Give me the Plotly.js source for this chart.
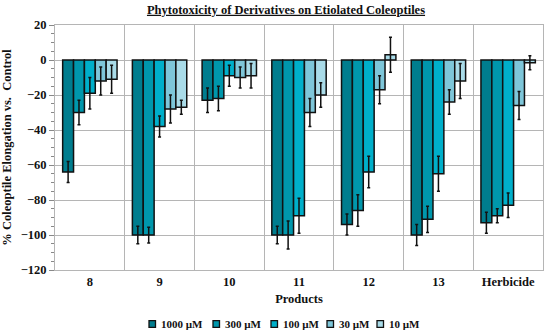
<!DOCTYPE html>
<html>
<head>
<meta charset="utf-8">
<script src="https://cdn.plot.ly/plotly-3.0.1.min.js"></script>
<style>html,body{margin:0;padding:0;background:#fff}#chart{width:550px;height:335px}</style>
</head>
<body>
<div id="chart"></div>
<script>
var categories = ["8", "9", "10", "11", "12", "13", "Herbicide"];
var seriesNames = ["1000 µM", "300 µM", "100 µM", "30 µM", "10 µM"];
var v1000 = [-64, -100, -23, -100, -94, -100, -93];
var e1000 = [6, 5, 7, 5, 6, 6, 6];
var v300 = [-30, -100, -22, -100, -86, -91, -89];
var e300 = [7, 4.5, 7, 8, 9, 7.5, 4];
var v100 = [-19, -38, -9, -89, -64, -65, -83];
var e100 = [9, 6, 6, 10, 9, 10, 7];
var v30 = [-12, -28, -10, -30, -17, -24, -26];
var e30 = [8, 8, 6, 8, 8, 7, 8];
var v10 = [-11, -27, -9, -20, 3, -12, -1.5];
var e10 = [8, 4, 7, 7, 10, 10, 4];
var colors = ["#007d8e", "#0097ac", "#00afca", "#7ec6d9", "#a9dbe8"];

var vals = [v1000, v300, v100, v30, v10];
var errs = [e1000, e300, e100, e30, e10];
var traces = vals.map(function(v, i) {
  return {
    type: "bar", x: categories, y: v, name: seriesNames[i],
    marker: {color: colors[i], line: {color: "#111", width: 1.5}},
    error_y: {type: "data", array: errs[i], visible: true, color: "#111", thickness: 1.5, width: 1.5}
  };
});

// custom compact legend (pixel positions converted to paper coords)
var W = 550, H = 335, ML = 55, MR = 7, MT = 25, MB = 65;
var PW = W - ML - MR, PH = H - MT - MB;
function px(x) { return (x - ML) / PW; }
function py(y) { return (H - MB - y) / PH; }
var legX = [149, 213, 271, 327, 377];
var legY = 324;
var shapes = [], annotations = [];
seriesNames.forEach(function(n, i) {
  shapes.push({type: "rect", xref: "paper", yref: "paper",
    x0: px(legX[i]), x1: px(legX[i] + 6.5), y0: py(legY + 3.3), y1: py(legY - 3.3),
    fillcolor: colors[i], line: {color: "#111", width: 1.3}});
  annotations.push({xref: "paper", yref: "paper", x: px(legX[i] + 10), y: py(legY),
    xanchor: "left", yanchor: "middle", showarrow: false, text: "<b>" + n + "</b>",
    font: {size: 11, family: "Liberation Serif, serif", color: "#111"}});
});

var font = "Liberation Serif, serif";
var layout = {
  width: W, height: H,
  margin: {l: ML, r: MR, t: MT, b: MB},
  barmode: "group", bargap: 0.22, bargroupgap: 0,
  paper_bgcolor: "#fff", plot_bgcolor: "#fff",
  font: {family: font, size: 12, color: "#111"},
  title: {text: "<b><u>Phytotoxicity of Derivatives on Etiolated Coleoptiles</u></b>", x: 0.52, xanchor: "center", y: 0.985, yanchor: "top", font: {size: 12.5, family: font}},
  xaxis: {
    type: "category", tickson: "boundaries", showgrid: true, gridcolor: "#b5b5b5", gridwidth: 1,
    ticks: "outside", ticklen: 4, tickcolor: "rgba(0,0,0,0)", tickfont: {size: 12.5, family: font},
    tickprefix: "<b>", ticksuffix: "</b>",
    showline: true, linecolor: "#b5b5b5", mirror: true,
    title: {text: "<b>Products</b>", standoff: 6, font: {size: 12.5, family: font}}
  },
  yaxis: {
    range: [-120, 20], dtick: 20, showgrid: true, gridcolor: "#b5b5b5", gridwidth: 1,
    zeroline: false, ticks: "outside", ticklen: 5, tickcolor: "#888",
    minor: {dtick: 5, ticks: "outside", ticklen: 3, tickcolor: "#888", showgrid: false},
    showline: true, linecolor: "#b5b5b5", mirror: true,
    tickprefix: "<b>", ticksuffix: "</b>", tickfont: {size: 12.5, family: font},
    title: {text: "<b>% Coleoptile Elongation vs.  Control</b>", standoff: 7, font: {size: 12.5, family: font}}
  },
  showlegend: false,
  shapes: shapes,
  annotations: annotations
};
Plotly.newPlot("chart", traces, layout, {displayModeBar: false, staticPlot: true});
</script>
</body>
</html>
